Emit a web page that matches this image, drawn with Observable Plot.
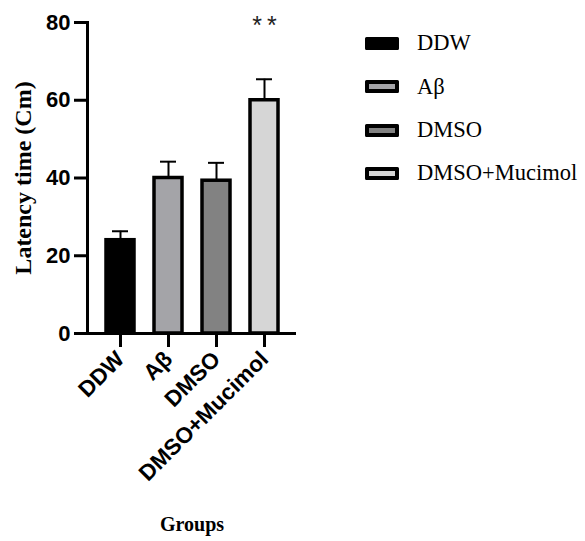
<!DOCTYPE html>
<html>
<head>
<meta charset="utf-8">
<script src="https://cdn.jsdelivr.net/npm/d3@7"></script>
<script src="https://cdn.jsdelivr.net/npm/@observablehq/plot@0.6"></script>
<style>
  html, body { margin: 0; padding: 0; background: #fff; }
  #wrap { position: relative; width: 585px; height: 541px; }
  #legend { position: absolute; left: 365px; top: 22px; font-family: "Liberation Serif", "Times New Roman", serif; font-size: 22.5px; color: #000; }
  .row { display: flex; align-items: center; height: 43.3px; line-height: 1; }
  .sw { width: 26px; height: 5px; border: 4px solid #000; border-radius: 1.5px; margin-right: 18px; box-sizing: content-box; }
</style>
</head>
<body>
<div id="wrap"></div>
<script>
const groups = ["DDW", "Aβ", "DMSO", "DMSO+Mucimol"];
const means = [24, 40, 39.3, 60];
const errors = [2.3, 4.2, 4.6, 5.4];
const colors = ["#000000", "#a4a4a8", "#828282", "#d6d6d6"];
const yTicks = [0, 20, 40, 60, 80];
const annotations = [{group: "DMSO+Mucimol", y: 80, label: "*\u2009*"}];

const data = groups.map((g, i) => ({group: g, mean: means[i], err: errors[i], upper: means[i] + errors[i]}));

const sans = "'Liberation Sans', Arial, sans-serif";
const serif = "'Liberation Serif', 'Times New Roman', serif";

const plot = Plot.plot({
  width: 585,
  height: 541,
  marginLeft: 87,
  marginRight: 289,
  marginTop: 22,
  marginBottom: 208,
  style: {fontFamily: sans, background: "#fff"},
  x: {domain: groups, paddingInner: 0.417, paddingOuter: 0.385, label: null},
  y: {domain: [0, 80], label: null},
  color: {domain: groups, range: colors},
  marks: [
    Plot.ruleX(data, {x: "group", y1: "mean", y2: "upper", stroke: "#000", strokeWidth: 2}),
    Plot.tickY(data, {x: "group", y: "upper", stroke: "#000", strokeWidth: 2, inset: 6}),
    Plot.barY(data, {x: "group", y: "mean", fill: "group", stroke: "#000", strokeWidth: 3.5}),
    Plot.axisY({ticks: yTicks, tickSize: 13, tickPadding: 4, strokeWidth: 3, fontSize: 22, fontWeight: "bold", fontFamily: sans, label: null}),
    Plot.axisX({tickSize: 14, tickPadding: 8, strokeWidth: 3, tickRotate: -45, fontSize: 22.5, fontWeight: "bold", fontFamily: sans, label: null}),
    Plot.ruleY([0], {strokeWidth: 3}),
    Plot.frame({anchor: "left", strokeWidth: 3}),
    Plot.text(["Latency time (Cm)"], {frameAnchor: "left", textAnchor: "middle", rotate: -90, dx: -64, text: d => d, fontSize: 24, fontWeight: "bold", fontFamily: serif}),
    Plot.text(["Groups"], {frameAnchor: "bottom", dy: 197, text: d => d, fontSize: 20, fontWeight: "bold", fontFamily: serif}),
    Plot.text(annotations, {x: "group", y: "y", text: "label", dy: 3, fontSize: 25, fontFamily: sans, fill: "#222"})
  ]
});

const wrap = document.getElementById("wrap");
wrap.appendChild(plot);

const legend = document.createElement("div");
legend.id = "legend";
groups.forEach((g, i) => {
  const row = document.createElement("div");
  row.className = "row";
  const sw = document.createElement("div");
  sw.className = "sw";
  sw.style.background = colors[i];
  const lab = document.createElement("span");
  lab.textContent = g;
  row.appendChild(sw);
  row.appendChild(lab);
  legend.appendChild(row);
});
wrap.appendChild(legend);
</script>
</body>
</html>
